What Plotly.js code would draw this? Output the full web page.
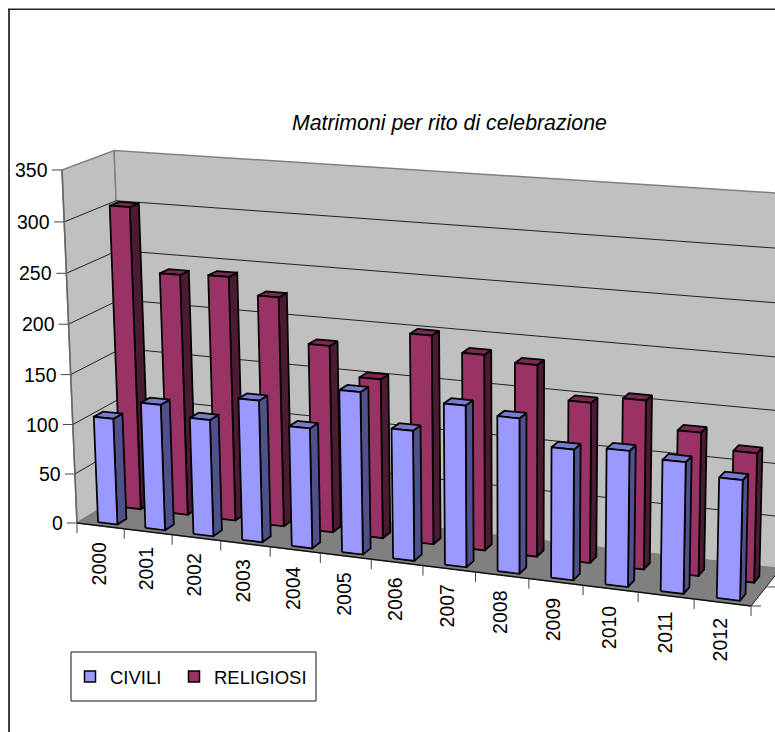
<!DOCTYPE html>
<html><head><meta charset="utf-8">
<script src="https://cdn.plot.ly/plotly-3.0.1.min.js"></script>
<style>html,body{margin:0;padding:0;background:#fff}</style></head>
<body><div id="c" style="width:775px;height:732px"></div>
<script>
const years=['2000','2001','2002','2003','2004','2005','2006','2007','2008','2009','2010','2011','2012'];
const civili=[107,126,116,140,118,158,126,155,148,124,128,123,112];
const religiosi=[305,242,244,228,185,157,204,190,185,154,161,136,122];
const valueTicks=[0,50,100,150,200,250,300,350];
const chartTitle='Matrimoni per rito di celebrazione';

// oblique projection of (category position, depth 0..1, value) on to the page
const P={x0:77,y0:523,a:601.9,d:24.8,b:54.54,e:-13.42,c:-17.05,f:-358.6,p:-0.096,q:0.0357,r:-0.033};
function pr(k,v,val){const u=k/years.length,h=val/350,w=1+P.p*u+P.q*v+P.r*h;
  return [(P.x0+P.a*u+P.b*v+P.c*h)/w,(P.y0+P.d*u+P.e*v+P.f*h)/w];}
function poly(pts){return {x:pts.map(p=>p[0]),y:pts.map(p=>p[1])};}
const traces=[];
function face(pts,fill,line,width){const g=poly(pts.concat([pts[0]]));
  traces.push({type:'scatter',mode:'lines',x:g.x,y:g.y,fill:fill?'toself':'none',fillcolor:fill||undefined,
    line:{color:line,width:width},showlegend:false,hoverinfo:'skip'});}
function seg(a,b,color,width){traces.push({type:'scatter',mode:'lines',x:[a[0],b[0]],y:[a[1],b[1]],
    line:{color:color,width:width},showlegend:false,hoverinfo:'skip'});}

const n=years.length;
// walls and floor
face([pr(0,0,0),pr(0,0,350),pr(0,1,350),pr(0,1,0)],'#C0C0C0','#808080',1.5);
face([pr(0,1,0),pr(0,1,350),pr(n,1,350),pr(n,1,0)],'#C0C0C0','#808080',1.5);
face([pr(0,0,0),pr(0,1,0),pr(n,1,0),pr(n,0,0)],'#808080','#808080',1);
// gridlines and value ticks
valueTicks.forEach(t=>{
  if(t>0&&t<350){seg(pr(0,0,t),pr(0,1,t),'#222',1);seg(pr(0,1,t),pr(n,1,t),'#222',1);}
  const a=pr(0,0,t);seg([a[0]-10,a[1]],a,'#444',1);
});
seg(pr(0,0,0),pr(0,0,350),'#666',1.5);
seg(pr(0,0,0),pr(n,0,0),'#111',1.5);
seg(pr(n,0,0),pr(n,1,0),'#222',1);
for(let k=0;k<=n;k++){const a=pr(k,0,0);seg(a,[a[0],a[1]+10],'#444',1);}
[0,0.5].forEach(v=>{const a=pr(n,v,0);seg(a,[a[0]+10,a[1]],'#444',1);});

function bars(vals,u0,u1,v0,v1,cFront,cSide,cTop){
  vals.forEach((val,i)=>{
    const k0=i+u0,k1=i+u1;
    face([pr(k1,v0,0),pr(k1,v1,0),pr(k1,v1,val),pr(k1,v0,val)],cSide,'#000',1.75);
    face([pr(k0,v0,val),pr(k1,v0,val),pr(k1,v1,val),pr(k0,v1,val)],cTop,'#000',1.75);
    face([pr(k0,v0,0),pr(k1,v0,0),pr(k1,v0,val),pr(k0,v0,val)],cFront,'#000',1.75);
  });
}
bars(religiosi,0.33,0.75,0.57,0.75,'#993366','#4D1A33','#7A2952');
bars(civili,0.35,0.76,0.09,0.27,'#9999FF','#50508A','#7A7ACC');

// legend entries, one legend each so they can sit at the reference's spacing
[['CIVILI','#9999FF','legend'],['RELIGIOSI','#993366','legend2']].forEach(e=>traces.push({type:'scatter',mode:'markers',x:[null],y:[null],name:e[0],legend:e[2],
  marker:{symbol:'square',size:11,color:e[1],line:{color:'#000',width:1.5}},hoverinfo:'skip'}));

const annotations=[{text:'<i>'+chartTitle+'</i>',x:449,y:123,xref:'x',yref:'y',showarrow:false,xanchor:'center',yanchor:'middle',
  font:{family:'Liberation Sans',size:21.3,color:'#000'}}];
valueTicks.forEach(t=>{const a=pr(0,0,t);annotations.push({text:String(t),x:a[0]-14,y:a[1],xref:'x',yref:'y',showarrow:false,
  xanchor:'right',yanchor:'middle',font:{family:'Liberation Sans',size:19.5,color:'#000'},borderpad:0,borderwidth:0});});
years.forEach((yr,i)=>{const a=pr(i+0.5,0,0);annotations.push({text:yr,x:a[0]-2,y:a[1]+16,xref:'x',yref:'y',showarrow:false,textangle:-90,
  xanchor:'center',yanchor:'top',font:{family:'Liberation Sans',size:19.5,color:'#000'},borderpad:0,borderwidth:0});});

const legendFont={family:'Liberation Sans',size:18.5,color:'#000'};
const layout={width:775,height:732,margin:{l:0,r:0,t:0,b:0},paper_bgcolor:'#fff',plot_bgcolor:'#fff',
  xaxis:{range:[0,775],visible:false,fixedrange:true},yaxis:{range:[732,0],visible:false,fixedrange:true},
  showlegend:true,
  legend:{x:70/775,y:1-658/732,xanchor:'left',yanchor:'top',bgcolor:'rgba(0,0,0,0)',font:legendFont},
  legend2:{x:174/775,y:1-658/732,xanchor:'left',yanchor:'top',bgcolor:'rgba(0,0,0,0)',font:legendFont},
  annotations:annotations,
  shapes:[
    {type:'rect',xref:'x',yref:'y',x0:71,x1:316,y0:652,y1:701,line:{color:'#111',width:1},fillcolor:'#fff',layer:'below'},
    {type:'line',xref:'x',yref:'y',x0:9,x1:9,y0:9,y1:740,line:{color:'#404040',width:2},layer:'above'},
    {type:'line',xref:'x',yref:'y',x0:8,x1:790,y0:9.3,y1:9.3,line:{color:'#222',width:1.5},layer:'above'}
  ]};
Plotly.newPlot('c',traces,layout,{displayModeBar:false,staticPlot:true});
</script></body></html>
